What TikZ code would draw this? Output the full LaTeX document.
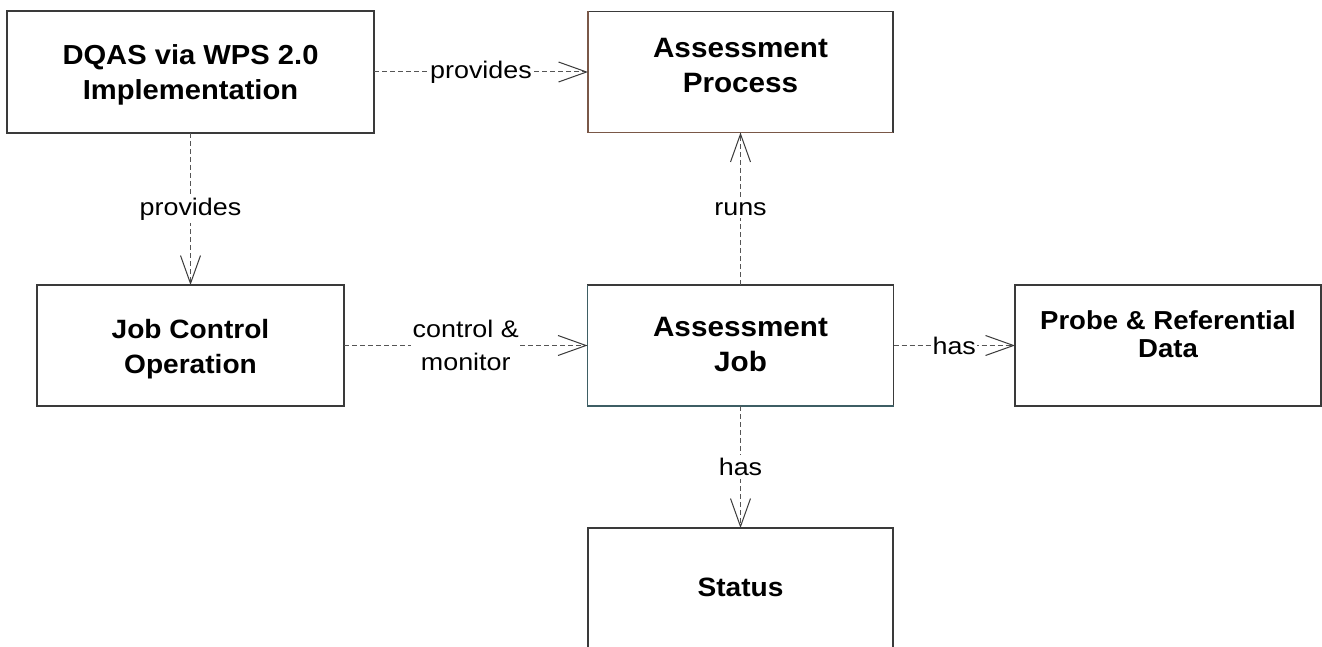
\documentclass[tikz,border=0pt]{standalone}
\usepackage{fontspec}
\setmainfont{Liberation Sans}
\newfontfamily\boxfont[FakeStretch=1.06]{Liberation Sans}
\newfontfamily\lblfont[FakeStretch=1.12]{Liberation Sans}
\usetikzlibrary{arrows.meta}
\definecolor{boxgray}{HTML}{3A3A3A}
\definecolor{brownedge}{HTML}{7A5848}
\definecolor{tealedge}{HTML}{3E5E64}
\definecolor{dashgray}{HTML}{555555}
\definecolor{tipgray}{HTML}{3A3A3A}
\begin{document}
\begin{tikzpicture}[x=1pt,y=-1pt,
  box/.style={draw=boxgray, line width=1.3pt, rectangle, inner sep=0pt, outer sep=0pt, fill=white},
  btext/.style={inner sep=0pt, align=center, anchor=north, font=\boxfont\bfseries\fontsize{#1}{35}\selectfont},
  conn/.style={draw=dashgray, line width=1pt, dash pattern=on 5pt off 3pt,
    -{Straight Barb[length=28pt,width=20pt,line width=1pt,color=tipgray]}},
  lbl/.style={fill=white, inner sep=1.5pt, align=center, text=black,
    font=\lblfont\fontsize{24}{33}\selectfont}]
\clip (0,0) rectangle (1322,647);
\fill[white] (0,0) rectangle (1322,647);
% boxes
\node[box, minimum width=367pt, minimum height=122pt] (dqas) at (190.5,72) {};
\node[box, minimum width=305pt, minimum height=121pt] (ap) at (740.5,72) {};
\node[box, minimum width=307pt, minimum height=121pt] (jco) at (190.5,345.5) {};
\node[box, minimum width=306pt, minimum height=121pt] (aj) at (740.5,345.5) {};
\node[box, minimum width=306pt, minimum height=121pt] (probe) at (1168,345.5) {};
\node[box, minimum width=305pt, minimum height=124pt] (status) at (740.5,590) {};
% coloured edges
\draw[brownedge, line width=1.3pt] (ap.north west) -- (ap.south west) -- (ap.south east);
\draw[tealedge, line width=1.3pt] (aj.north west) -- (aj.south west) -- (aj.south east);
% texts
\node[btext=27.5] (dqasT) at (190.5,44) {DQAS via WPS 2.0\\Implementation};
\node[btext=28] (apT) at (740.5,38) {Assessment\\Process};
\node[btext=26.5] (jcoT) at (190.5,319) {Job Control\\Operation};
\node[btext=28] (ajT) at (740.5,317) {Assessment\\Job};
\node[btext=26, font=\boxfont\bfseries\fontsize{26}{28}\selectfont] (probeT) at (1168,310) {Probe \& Referential\\Data};
\node[btext=26.5] (statusT) at (740.5,578) {Status};
% connectors
\draw[conn] (dqas.east) -- (ap.west) node[lbl, midway] {provides};
\draw[conn] (dqas.south) -- (jco.north) node[lbl, midway, inner ysep=3pt] {provides};
\draw[conn] (jco.east) -- (aj.west) node[lbl, midway] {control \&\\monitor};
\draw[conn] (aj.north) -- (ap.south) node[lbl, midway, inner ysep=3pt] {runs};
\draw[conn] (aj.east) -- (probe.west) node[lbl, midway] {has};
\draw[conn] (aj.south) -- (status.north) node[lbl, midway, inner ysep=3pt] {has};
\end{tikzpicture}
\end{document}
